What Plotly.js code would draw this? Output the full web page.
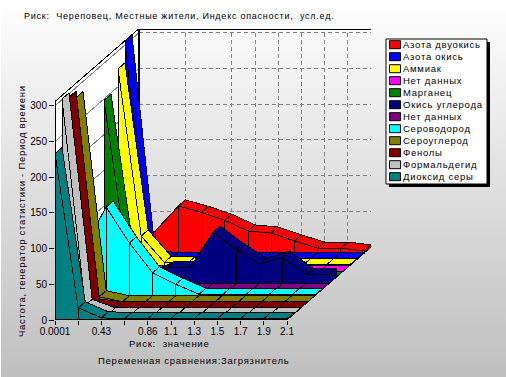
<!DOCTYPE html>
<html><head><meta charset="utf-8">
<script src="https://cdn.plot.ly/plotly-3.0.1.min.js"></script>
<style>
html,body{margin:0;padding:0;width:506px;height:377px;overflow:hidden;background:#fff}
#wrap{position:absolute;left:1px;top:0;width:505px;height:377px;background:linear-gradient(#ffffff,#bfbfbf)}
#chart{position:absolute;left:-1px;top:0;width:506px;height:377px}
.scatterlayer path{shape-rendering:crispEdges}
.annotation-text{letter-spacing:0.75px}
</style></head><body>
<div id="wrap"><div id="chart"></div></div>
<script>
const xTickLabels = ["0.0001","","0.43","","0.86","1.1","1.3","1.5","1.7","1.9","2.1"];
const yTicks = [0,50,100,150,200,250,300];
const wallTop = 306;
// front-to-back order of the series
const names = ["Диоксид серы","Формальдегид","Фенолы","Сероуглерод","Сероводород","Нет данных","Окись углерода","Марганец","Нет данных","Аммиак","Азота окись","Азота двуокись"];
const colors = ["#008080","#c0c0c0","#800000","#808000","#00ffff","#800080","#000080","#008000","#ff00ff","#ffff00","#0000ff","#ff0000"];
const dioxide  = [233,17,3,2,2,2,2,2,2,2,2];
const formald  = [301,12,0,0,0,0,0,0,0,0,0];
const phenols  = [295,4,0,0,0,0,0,0,0,0,0];
const carbdis  = [286,7,0,0,0,0,0,0,0,0,0];
const hydrosul = [66,124,74,32,16,2,1,1,1,1,1];
const nodata1  = [0,0,0,0,0,0,0,0,0,0,0];
const carbmon  = [0,0,6,22,22,72,48,27,37,13,13];
const mangan   = [248,25,5,1,0,0,0,0,0,0,0];
const nodata2  = [0,0,0,0,0,0,0,0,0,0,0];
const ammonia  = [275,41,4,3,1,1,1,1,1,1,1];
const nitroxid = [305,3,1,1,1,1,1,1,1,1,1];
const nitrodio = [0,31,66,57,46,31,28,17,7,7,3];
const seriesValues = [dioxide,formald,phenols,carbdis,hydrosul,nodata1,carbmon,mangan,nodata2,ammonia,nitroxid,nitrodio];

const W=506,H=377,L=55,R=371,T=29,B=320;
const pxX=23.2, pxY=0.714, slotX=7, slotY=6.08;
const P=(c,v,z)=>[c+z*slotX/pxX, v+z*slotY/pxY];
const traces=[];
function poly(pts,fill,lineColor,width,dash){
  const t={x:pts.map(p=>p[0]),y:pts.map(p=>p[1]),mode:'lines',hoverinfo:'skip',showlegend:false,cliponaxis:false,
    line:{color:lineColor||'#000',width:width===undefined?1:width,dash:dash||'solid'}};
  if(fill){t.fill='toself';t.fillcolor=fill;t.x.push(t.x[0]);t.y.push(t.y[0]);}
  traces.push(t);
}
const N=xTickLabels.length, D=names.length;
// left wall
poly([P(0,0,0),P(0,wallTop,0),P(0,wallTop,D),P(0,0,D)],'#ffffff','#000',1);
// wall grid
yTicks.forEach(v=>{ if(v>0){
  poly([P(0,v,0),P(0,v,D)],null,'#808080',1);
  poly([P(0,v,D),P(N-1,v,D)],null,'#808080',1,'4px,3px');
}});
xTickLabels.forEach((l,c)=>{ if(l && c>0 && c<N-1) poly([P(c,0,D),P(c,wallTop,D)],null,'#808080',1,'4px,3px'); });
poly([P(0,wallTop,D),P(N-1,wallTop,D)],null,'#000',2);
poly([P(0,0,D),P(0,wallTop,D)],null,'#000',2);
poly([P(N-1,0,D),P(N-1,wallTop,D)],null,'#000',1);
// series, back to front
for(let z=D-1;z>=0;z--){
  const v=seriesValues[z], col=colors[z];
  poly([P(N-1,0,z),P(N-1,v[N-1],z),P(N-1,v[N-1],z+1),P(N-1,0,z+1)],col);
  for(let c=0;c<N-1;c++) poly([P(c,v[c],z),P(c+1,v[c+1],z),P(c+1,v[c+1],z+1),P(c,v[c],z+1)],col);
  for(let c=0;c<N-1;c++) poly([P(c,0,z),P(c,v[c],z),P(c+1,v[c+1],z),P(c+1,0,z)],col);
}
// front axis lines
poly([P(0,0,0),P(0,wallTop,0)],null,'#000',2);
poly([P(0,0,0),P(N-1,0,0)],null,'#000',2);
poly([P(N-1,0,0),P(N-1,0,D)],null,'#000',1);

const fx=x=>(x-L)/(R-L), fy=y=>(B-y)/(B-T);
const shapes=[
 {type:'rect',xref:'paper',yref:'paper',x0:fx(389),x1:fx(490),y0:fy(42),y1:fy(187),fillcolor:'#000',line:{width:0}},
 {type:'rect',xref:'paper',yref:'paper',x0:fx(386),x1:fx(487),y0:fy(39),y1:fy(184),fillcolor:'#fff',line:{color:'#000',width:1}}
];
const tickFont={family:'"Liberation Sans",Arial,sans-serif',size:10,color:'#000'};
const font={family:'"Liberation Sans",Arial,sans-serif',size:9.5,color:'#000'};
const anns=[];
const txt=(text,x,y,o)=>anns.push(Object.assign({text,xref:'paper',yref:'paper',x:fx(x),y:fy(y),showarrow:false,font,xanchor:'left',yanchor:'middle',borderpad:0,borderwidth:0},o||{}));
txt('Риск:  Череповец, Местные жители, Индекс опасности,  усл.ед.',24,16,{font:Object.assign({},font,{size:9})});
txt('Риск:  значение',169,343,{xanchor:'center'});
txt('Переменная сравнения:Загрязнитель',193,360,{xanchor:'center'});
txt('Частота, генератор статистики - Период времени',21,211,{xanchor:'center',textangle:-90});
for(let i=0;i<D;i++){
  const z=D-1-i, y=44.7+i*12;
  shapes.push({type:'rect',xref:'paper',yref:'paper',x0:fx(389.5),x1:fx(400.5),y0:fy(y-4),y1:fy(y+4),fillcolor:colors[z],line:{color:'#000',width:1}});
  txt(names[z],403,y);
}
Plotly.newPlot('chart',traces,{
  width:W,height:H,margin:{l:L,r:W-R,t:T,b:H-B,pad:0},
  paper_bgcolor:'rgba(0,0,0,0)',plot_bgcolor:'rgba(0,0,0,0)',showlegend:false,
  xaxis:{range:[0,(R-L)/pxX],tickmode:'array',tickvals:xTickLabels.map((l,i)=>i),ticktext:xTickLabels,tickangle:0,ticklabelstandoff:-2,
    showgrid:false,zeroline:false,showline:false,ticks:'outside',ticklen:4,tickcolor:'#000',tickfont:tickFont},
  yaxis:{range:[0,(B-T)/pxY],tickmode:'array',tickvals:yTicks,ticktext:yTicks.map(String),
    showgrid:false,zeroline:false,showline:false,ticks:'outside',ticklen:5,tickcolor:'#000',tickfont:tickFont},
  shapes,annotations:anns
},{staticPlot:true,displayModeBar:false});
</script></body></html>
